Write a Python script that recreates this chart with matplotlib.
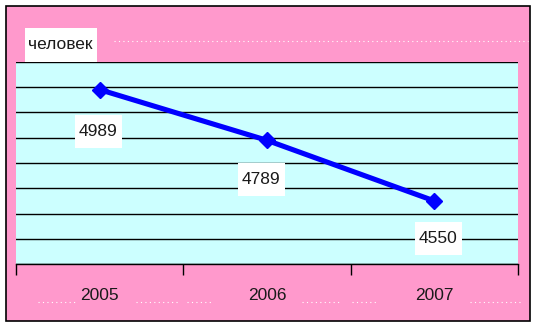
import matplotlib
matplotlib.use("Agg")
import matplotlib.pyplot as plt
from matplotlib.patches import Rectangle
from matplotlib.transforms import IdentityTransform
from matplotlib.lines import Line2D

years = ["2005", "2006", "2007"]
values = [4989, 4789, 4550]
unit_label = "человек"

W, H = 536, 325
plt.rcParams['font.family'] = ['Liberation Sans', 'DejaVu Sans']
fig = plt.figure(figsize=(W / 100, H / 100), dpi=100)
fig.patch.set_facecolor("white")

def px(x0, y0, w, h):
    # convert image pixel box (top-left origin) to figure fraction
    return [x0 / W, 1 - (y0 + h) / H, w / W, h / H]

# pink frame
fig.patches.append(Rectangle((5.5 / W, 1 - 321 / H), 524.5 / W, 315 / H,
                             transform=fig.transFigure, facecolor="#FF99CC",
                             edgecolor="black", linewidth=1.2, zorder=-3))

# faint white dotted lines
for (x1, x2, yy) in [(114, 528, 41), (38, 76, 302), (136, 180, 302), (187, 212, 302),
                     (302, 340, 302), (352, 378, 302), (470, 522, 302)]:
    fig.lines.append(Line2D([x1 / W, x2 / W], [1 - yy / H, 1 - yy / H],
                            transform=fig.transFigure, color="white",
                            linestyle=(0, (1, 3)), linewidth=0.8, zorder=-2))

ax = fig.add_axes(px(16, 61.5, 502, 202.8))
ax.set_zorder(1)
ax.set_facecolor("#CCFFFF")
x = list(range(len(years)))
ax.set_xlim(-0.5, len(years) - 0.5)
ax.set_ylim(4300, 5100)
ax.set_yticks(range(4300, 5101, 100))
ax.yaxis.grid(True, color="black", linewidth=1.0)
ax.set_axisbelow(True)
ax.tick_params(axis="y", left=False, labelleft=False)
for s in ["top", "right", "left"]:
    ax.spines[s].set_visible(False)
ax.spines["bottom"].set_linewidth(1.0)
ax.set_xticks([-0.5, 0.5, 1.5, 2.5])
ax.set_xticklabels([])
ax.set_xticks(x, minor=True)
ax.set_xticklabels(years, minor=True, fontsize=12.5, color="#1a1a1a")
ax.tick_params(axis="x", which="major", length=8, width=1.0, direction="out")
ax.tick_params(axis="x", which="minor", length=0, pad=17)

ax.plot(x, values, color="#0000FF", linewidth=3.7, marker="D", markersize=8.5,
        markerfacecolor="#0000FF", markeredgecolor="#0000FF", zorder=5,
        clip_on=False)

# data labels in white boxes (pixel offsets from point, y down)
offsets = [(-1.5, 41.5), (-6, 39.5), (4, 37.5)]
bw, bh = 47, 33
fig.canvas.draw()
for xi, v, (dx, dy) in zip(x, values, offsets):
    dpx, dpy = ax.transData.transform((xi, v))
    cx, cy = dpx + dx, dpy - dy
    fig.patches.append(Rectangle((cx - bw / 2, cy - bh / 2), bw, bh,
                                 transform=IdentityTransform(), facecolor="white",
                                 edgecolor="none", zorder=6))
    fig.text(cx / W, cy / H, str(v), ha="center", va="center", fontsize=12.5,
             color="#1a1a1a", zorder=7)

# unit label box
fig.patches.append(Rectangle((25 / W, 1 - 61.5 / H), 72 / W, 33.5 / H,
                             transform=fig.transFigure, facecolor="white",
                             edgecolor="none", zorder=2))
fig.text(28 / W, 1 - 44.5 / H, unit_label, ha="left", va="center", fontsize=12.5,
         color="#1a1a1a", zorder=3)

fig.savefig("out.png", dpi=100)
